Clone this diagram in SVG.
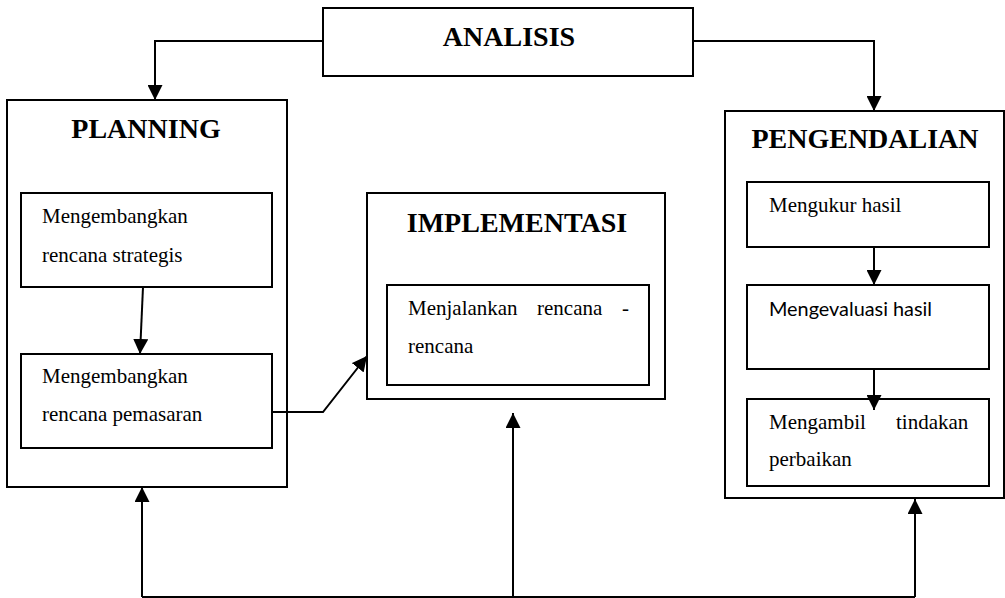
<svg xmlns="http://www.w3.org/2000/svg" width="1005" height="598" viewBox="0 0 1005 598">
<style>
.box{fill:#fff;stroke:#000;stroke-width:2}
.title{font-family:"Liberation Serif",serif;font-weight:bold;font-size:28px;fill:#000;text-anchor:middle}
.body{font-family:"Liberation Serif",serif;font-size:21px;fill:#000}
.sans{font-family:Lato,"Liberation Sans",sans-serif;font-size:19px;fill:#000}
.ln{fill:none;stroke:#000;stroke-width:2}
</style>
<defs>
<marker id="ah" markerUnits="userSpaceOnUse" viewBox="0 0 15 15" markerWidth="15" markerHeight="15" refX="15" refY="7.5" orient="auto">
<path d="M0,0 L15,7.5 L0,15 z" fill="#000"/>
</marker>
</defs>
<g id="analisis">
<rect class="box" x="323" y="8" width="370" height="68"/>
<text class="title" x="509" y="46">ANALISIS</text>
</g>
<g id="planning">
<rect class="box" x="7" y="100" width="280" height="387"/>
<text class="title" x="146" y="138">PLANNING</text>
</g>
<g id="strategis">
<rect class="box" x="21" y="193" width="251" height="94"/>
<text class="body" x="42" y="223">Mengembangkan</text>
<text class="body" x="42" y="262">rencana strategis</text>
</g>
<g id="pemasaran">
<rect class="box" x="21" y="354" width="251" height="94"/>
<text class="body" x="42" y="383">Mengembangkan</text>
<text class="body" x="42" y="421">rencana pemasaran</text>
</g>
<g id="implementasi">
<rect class="box" x="367" y="193" width="298" height="206"/>
<text class="title" x="517" y="232">IMPLEMENTASI</text>
</g>
<g id="menjalankan">
<rect class="box" x="387" y="285" width="262" height="100"/>
<text class="body" x="408" y="315">Menjalankan</text>
<text class="body" x="537" y="315">rencana</text>
<text class="body" x="622" y="315">-</text>
<text class="body" x="408" y="353">rencana</text>
</g>
<g id="pengendalian">
<rect class="box" x="725" y="111" width="279" height="387"/>
<text class="title" x="865" y="148">PENGENDALIAN</text>
</g>
<g id="mengukur">
<rect class="box" x="747" y="182" width="242" height="65"/>
<text class="body" x="769" y="212">Mengukur hasil</text>
</g>
<g id="mengevaluasi">
<rect class="box" x="747" y="285" width="242" height="84"/>
<text class="sans" x="769" y="316" textLength="163" lengthAdjust="spacingAndGlyphs">Mengevaluasi hasil</text>
</g>
<g id="mengambil">
<rect class="box" x="747" y="399" width="242" height="87"/>
<text class="body" x="769" y="429">Mengambil</text>
<text class="body" x="896" y="429">tindakan</text>
<text class="body" x="769" y="466">perbaikan</text>
</g>
<g id="connectors">
<polyline class="ln" points="323,41 155,41 155,100" marker-end="url(#ah)"/>
<polyline class="ln" points="693,41 874,41 874,111" marker-end="url(#ah)"/>
<line class="ln" x1="143" y1="287" x2="140" y2="354" marker-end="url(#ah)"/>
<polyline class="ln" points="272,412 323,412 367,356" marker-end="url(#ah)"/>
<line class="ln" x1="874" y1="247" x2="874" y2="285" marker-end="url(#ah)"/>
<line class="ln" x1="874" y1="369" x2="874" y2="410" marker-end="url(#ah)"/>
<line class="ln" x1="142" y1="597" x2="915" y2="597"/>
<line class="ln" x1="142" y1="597" x2="142" y2="487" marker-end="url(#ah)"/>
<line class="ln" x1="513" y1="597" x2="513" y2="413" marker-end="url(#ah)"/>
<line class="ln" x1="915" y1="597" x2="915" y2="499" marker-end="url(#ah)"/>
</g>
</svg>
